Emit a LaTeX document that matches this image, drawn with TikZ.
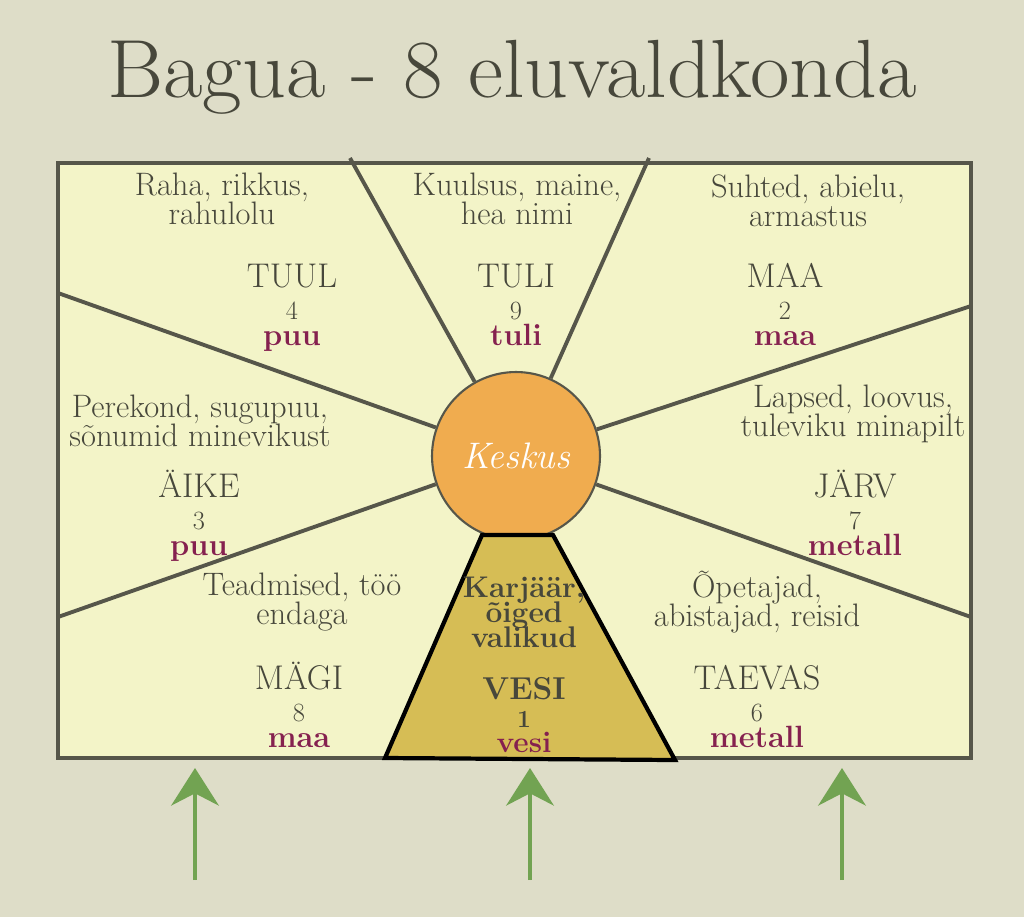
\documentclass[tikz,border=0pt]{standalone}
\usepackage{fontspec}
\usepackage{graphicx}
\usetikzlibrary{arrows.meta}
\definecolor{paper}{HTML}{DEDDC8}
\definecolor{panel}{HTML}{F3F4C8}
\definecolor{linegrey}{HTML}{56564A}
\definecolor{txtgrey}{HTML}{47473B}
\definecolor{elemred}{HTML}{85214F}
\definecolor{centre}{HTML}{F0AC4F}
\definecolor{gold}{HTML}{D6BD55}
\definecolor{leafgreen}{HTML}{72A352}
\newcommand{\tightlines}{\lineskiplimit=-50pt\relax}
\begin{document}
\begin{tikzpicture}[x=0.02cm, y=-0.02cm, >={Stealth[length=7.5mm,width=9.5mm]},
    desc/.style={anchor=base, align=center, text=txtgrey, font=\fontsize{18.5}{16.5}\selectfont\tightlines},
    block/.style={anchor=base, align=center, text=txtgrey, font=\fontsize{19.5}{14.8}\selectfont\tightlines},
    vesitext/.style={anchor=base, align=center, text=txtgrey, font=\fontsize{17}{14.2}\selectfont\bfseries\tightlines},
    spoke/.style={draw=linegrey, line width=2.2pt},
    arrowup/.style={->, draw=leafgreen, fill=leafgreen, line width=2.6pt}]
\fill[paper] (0,0) rectangle (1024,917);
\useasboundingbox (0,0) rectangle (1024,917);
\node[text=txtgrey, font=\fontsize{47}{50}\selectfont, anchor=base] (title) at (512,97) {\scalebox{1.04}[1]{Bagua - 8 eluvaldkonda}};
% the panel
\draw[linegrey, fill=panel, line width=1.8pt] (58,163) rectangle (971,758);
\node[circle, draw=linegrey, line width=1.2pt, fill=centre, minimum size=3.36cm, inner sep=0pt] (keskus) at (516,456) {};
\coordinate (s1) at (350,158);
\coordinate (s2) at (58,293);
\coordinate (s3) at (58,617);
\coordinate (s4) at (649,158);
\coordinate (s5) at (971,306);
\coordinate (s6) at (971,617);
\foreach \s in {s1,s2,s3,s4,s5,s6}
    \draw[spoke] (keskus) -- (\s);
\node[text=white, font=\fontsize{21}{24}\selectfont\itshape] (keskusnimi) at (keskus) {Keskus};
% kariaar
\draw[black, fill=gold, line width=2.4pt, line join=miter] (482,535) -- (553,535) -- (675,760) -- (385,758) -- cycle;
\node[vesitext] (karjaar) at (524,647) {Karjäär,\\õiged\\valikud};
\node[vesitext] (vesi) at (524,752) {{\fontsize{18}{14.2}\selectfont VESI}\\[1.4pt]
    {\fontsize{14}{14.2}\selectfont 1}\\
    {\color{elemred}vesi}};
% the seven other zones
\foreach \id/\dx/\dy/\da/\db/\tx/\ty/\tri/\num/\el in {
    tuul/222/195/{Raha, rikkus,}/{rahulolu}/292/287/TUUL/4/puu,
    tuli/517/195/{Kuulsus, maine,}/{hea nimi}/516/287/TULI/9/tuli,
    maa/808/197/{Suhted, abielu,}/{armastus}/785/287/MAA/2/maa,
    aike/200/417/{Perekond, sugupuu,}/{sõnumid minevikust}/199/497/ÄIKE/3/puu,
    jarv/853/407/{Lapsed, loovus,}/{tuleviku minapilt}/855/497/JÄRV/7/metall,
    magi/302/595/{Teadmised, töö}/{endaga}/299/689/MÄGI/8/maa,
    taevas/757/597/{Õpetajad,}/{abistajad, reisid}/757/689/TAEVAS/6/metall}{
    \node[desc] (\id-d) at (\dx,\dy+29) {\da\\\db};
    \node[block] (\id-t) at (\tx,\ty+58) {\tri\\[3.4pt]
        {\fontsize{15}{14.8}\selectfont\num}\\
        {\color{elemred}\fontsize{17.5}{14.8}\selectfont\bfseries\el}};
}
% arrows
\coordinate (a1b) at (195,880); \coordinate (a1t) at (195,768);
\coordinate (a2b) at (530,880); \coordinate (a2t) at (530,768);
\coordinate (a3b) at (842,880); \coordinate (a3t) at (842,768);
\draw[arrowup] (a1b) -- (a1t);
\draw[arrowup] (a2b) -- (a2t);
\draw[arrowup] (a3b) -- (a3t);
\end{tikzpicture}
\end{document}
